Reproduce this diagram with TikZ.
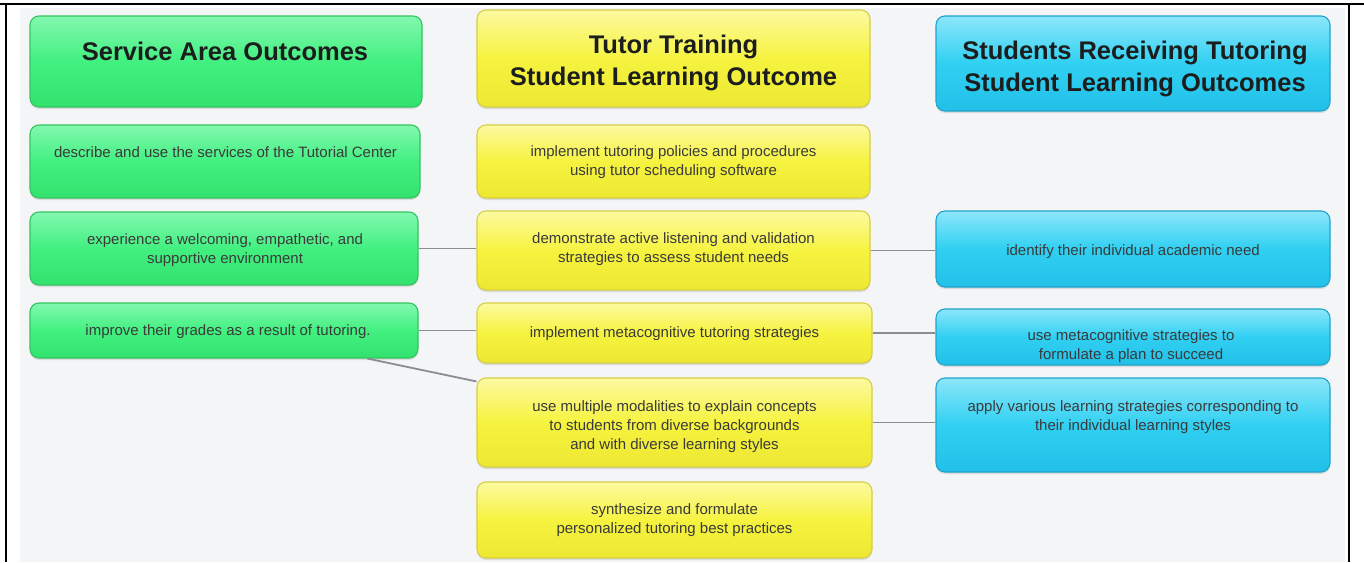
\documentclass[tikz,border=0pt]{standalone}
\usepackage{fontspec}
\setmainfont{Liberation Sans}
\usetikzlibrary{fit,shadows,calc}
\definecolor{bgc}{RGB}{244,245,247}
\definecolor{gtop}{RGB}{130,248,175}
\definecolor{gmid}{RGB}{66,240,128}
\definecolor{gbot}{RGB}{50,226,110}
\definecolor{gborder}{RGB}{52,196,96}
\definecolor{ytop}{RGB}{252,250,160}
\definecolor{ymid}{RGB}{246,243,64}
\definecolor{ybot}{RGB}{236,232,50}
\definecolor{yborder}{RGB}{214,206,70}
\definecolor{btop}{RGB}{140,230,250}
\definecolor{bmid}{RGB}{48,208,242}
\definecolor{bbot}{RGB}{34,192,232}
\definecolor{bborder}{RGB}{32,164,204}
\definecolor{hcol}{RGB}{28,30,30}
\definecolor{tcol}{RGB}{58,58,58}
\definecolor{linkc}{RGB}{140,140,148}
\begin{document}
\begin{tikzpicture}[x=1pt,y=-1pt,
  box/.style={rounded corners=9pt, line width=1.1pt, inner sep=0pt,
    drop shadow={shadow xshift=0pt,shadow yshift=-2pt,opacity=0.22}},
  gbox/.style={box, draw=gborder, top color=gtop, bottom color=gbot, middle color=gmid},
  ybox/.style={box, draw=yborder, top color=ytop, bottom color=ybot, middle color=ymid},
  bbox/.style={box, draw=bborder, top color=btop, bottom color=bbot, middle color=bmid},
  htext/.style={font=\fontsize{25.5}{32}\selectfont\bfseries, text=hcol, align=center, inner sep=0pt},
  btext/.style={font=\fontsize{15}{19}\selectfont, text=tcol, align=center, inner sep=0pt},
  link/.style={draw=linkc, line width=1.8pt},
  frame/.style={draw=black, line width=2.5pt}]
\useasboundingbox (0,0) rectangle (1364,562);
\fill[bgc] (20,8) rectangle (1345,562);
\draw[frame] (0,4) -- (1364,4);
\draw[frame] (6,4) -- (6,562);
\draw[frame] (1349,4) -- (1349,562);

% green column
\node[gbox, fit={(30,16) (422,107)}] (g0) {};
\node[gbox, fit={(30,125) (420,198)}] (g1) {};
\node[gbox, fit={(30,212) (418,285)}] (g2) {};
\node[gbox, fit={(30,303) (418,358)}] (g3) {};
% yellow column
\node[ybox, fit={(477,10) (870,107)}] (y0) {};
\node[ybox, fit={(477,125) (870,198)}] (y1) {};
\node[ybox, fit={(477,211) (870,290)}] (y2) {};
\node[ybox, fit={(477,303) (872,363)}] (y3) {};
\node[ybox, fit={(477,378) (872,467)}] (y4) {};
\node[ybox, fit={(477,482) (872,558)}] (y5) {};
% blue column
\node[bbox, fit={(936,16) (1330,111)}] (b0) {};
\node[bbox, fit={(936,211) (1330,287)}] (b1) {};
\node[bbox, fit={(936,309) (1330,365)}] (b2) {};
\node[bbox, fit={(936,378) (1330,472)}] (b3) {};

% connectors
\draw[link] (g2.east) -- (g2.east -| y2.west);
\draw[link] (g3.east) -- (g3.east -| y3.west);
\draw[link] ($(g3.south)!0.737!(g3.south east)$) -- ([yshift=-4pt]y4.north west);
\draw[link] (y2.east) -- (y2.east -| b1.west);
\draw[link] (y3.east) -- (y3.east -| b2.west);
\draw[link] (y4.east) -- (y4.east -| b3.west);

% texts
\node[htext] (g0t) at (225,54.5) {\strut Service Area Outcomes};
\node[htext] (y0t) at (673.5,62.6) {\strut Tutor Training\\\strut Student Learning Outcome};
\node[htext] (b0t) at (1135,68.6) {\strut Students Receiving Tutoring\\\strut Student Learning Outcomes};

\node[btext] (g1t) at (225.5,153.2) {\strut describe and use the services of the Tutorial Center};
\node[btext] (g2t) at (225,250.2) {\strut experience a welcoming, empathetic, and\\\strut supportive environment};
\node[btext] (g3t) at (228,331.2) {\strut improve their grades as a result of tutoring.};

\node[btext] (y1t) at (673.5,162.2) {\strut implement tutoring policies and procedures\\\strut using tutor scheduling software};
\node[btext] (y2t) at (673.5,248.7) {\strut demonstrate active listening and validation\\\strut strategies to assess student needs};
\node[btext] (y3t) at (674.5,333.2) {\strut implement metacognitive tutoring strategies};
\node[btext] (y4t) at (674.5,426.2) {\strut use multiple modalities to explain concepts\\\strut to students from diverse backgrounds\\\strut and with diverse learning styles};
\node[btext] (y5t) at (674.5,519.7) {\strut synthesize and formulate\\\strut personalized tutoring best practices};

\node[btext] (b1t) at (1133,252) {\strut identify their individual academic need};
\node[btext] (b2t) at (1131,346.2) {\strut use metacognitive strategies to\\\strut formulate a plan to succeed};
\node[btext] (b3t) at (1133,417.2) {\strut apply various learning strategies corresponding to\\\strut their individual learning styles};
\end{tikzpicture}
\end{document}
